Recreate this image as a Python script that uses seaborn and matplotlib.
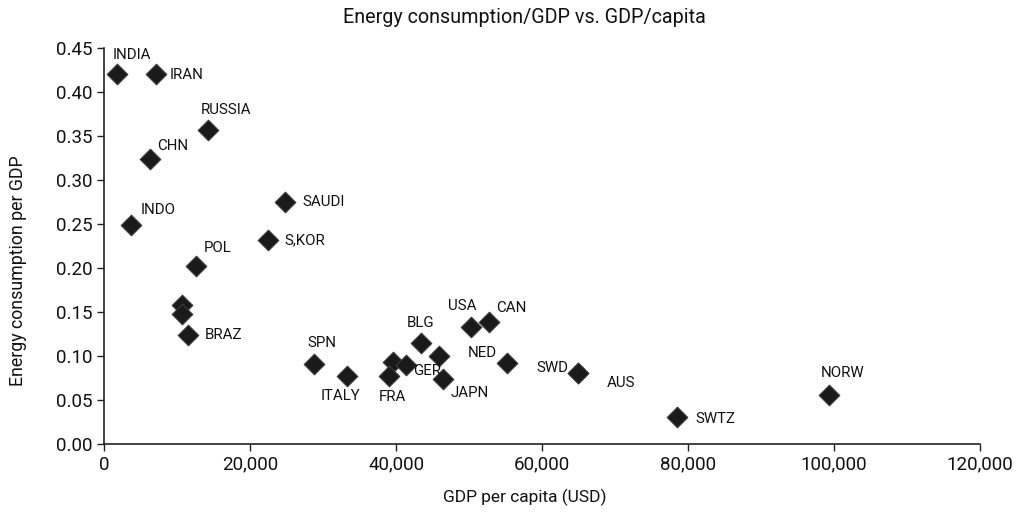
import pandas as pd
import seaborn as sns
import matplotlib.pyplot as plt

# data
countries = ['INDIA', 'IRAN', 'RUSSIA', 'CHN', 'INDO', 'SAUDI', 'S,KOR', 'POL',
             '', '', 'BRAZ', 'SPN', 'ITALY', '', 'GER', 'FRA', '', 'BLG',
             'JAPN', 'USA', 'CAN', 'NED', 'SWD', 'AUS', 'SWTZ', 'NORW']
gdp_per_capita = [1800, 7100, 14200, 6300, 3700, 24800, 22500, 12600,
                  10700, 10700, 11500, 28800, 33200, 39600, 41400, 39000, 45900, 43400,
                  46400, 50300, 52700, 55200, 64900, 64900, 78500, 99300]
energy_per_gdp = [0.420, 0.420, 0.357, 0.324, 0.249, 0.275, 0.232, 0.202,
                  0.158, 0.147, 0.124, 0.091, 0.077, 0.093, 0.090, 0.077, 0.100, 0.115,
                  0.074, 0.133, 0.139, 0.092, 0.080, 0.080, 0.030, 0.056]

# label offsets (pixels from the marker)
label_dx = [-5, 14, -7, 7, 9, 17, 16, 8, 0, 0, 17, -7, -26, 0, 7, -10, 0, -14,
            8, -23, 7, -39, -41, 29, 18, -8]
label_dy = [19, -1, 20, 13, 15, 0, -1, 18, 0, 0, 0, 21, -20, 0, -6, -21, 0, 20,
            -14, 21, 14, 10, 5, -10, -2, 22]

df = pd.DataFrame({'country': countries, 'gdp': gdp_per_capita, 'energy': energy_per_gdp})

sns.set_style('ticks')
plt.rcParams['font.family'] = ['Roboto', 'DejaVu Sans']

fig = plt.figure(figsize=(10.21, 5.16), dpi=100)
ax = fig.add_axes([0.102, 0.140, 0.858, 0.767])

sns.scatterplot(data=df, x='gdp', y='energy', marker='D', s=110,
                color='#1a1a1a', edgecolor='#3a3a3a', linewidth=0.8, ax=ax, zorder=3)

for name, x, y, dx, dy in zip(countries, gdp_per_capita, energy_per_gdp, label_dx, label_dy):
    if name:
        ax.annotate(name, (x, y), xytext=(dx, dy), textcoords='offset pixels',
                    ha='left', va='center', fontsize=10.8, color='#111111')

ax.set_xlim(0, 120000)
ax.set_ylim(0, 0.45)
ax.set_xticks(range(0, 120001, 20000))
ax.set_xticklabels([f'{v:,}' for v in range(0, 120001, 20000)])
ax.set_yticks([i * 0.05 for i in range(10)])
ax.set_yticklabels([f'{i * 0.05:.2f}' for i in range(10)])
ax.tick_params(labelsize=13.5, length=5, width=1, color='#222222', labelcolor='#111111')
for side in ['left', 'bottom']:
    ax.spines[side].set_color('#222222')
    ax.spines[side].set_linewidth(1.2)
sns.despine(ax=ax)

ax.set_xlabel('')
ax.set_ylabel('')
fig.text(0.514, 0.036, 'GDP per capita (USD)', ha='center', va='center', fontsize=12.5, color='#111111')
fig.text(0.018, 0.475, 'Energy consumption per GDP', ha='center', va='center',
         rotation=90, fontsize=12.8, color='#111111')
fig.text(0.514, 0.967, 'Energy consumption/GDP vs. GDP/capita', ha='center', va='center',
         fontsize=14.2, color='#111111')

plt.savefig('out.png', dpi=100)
